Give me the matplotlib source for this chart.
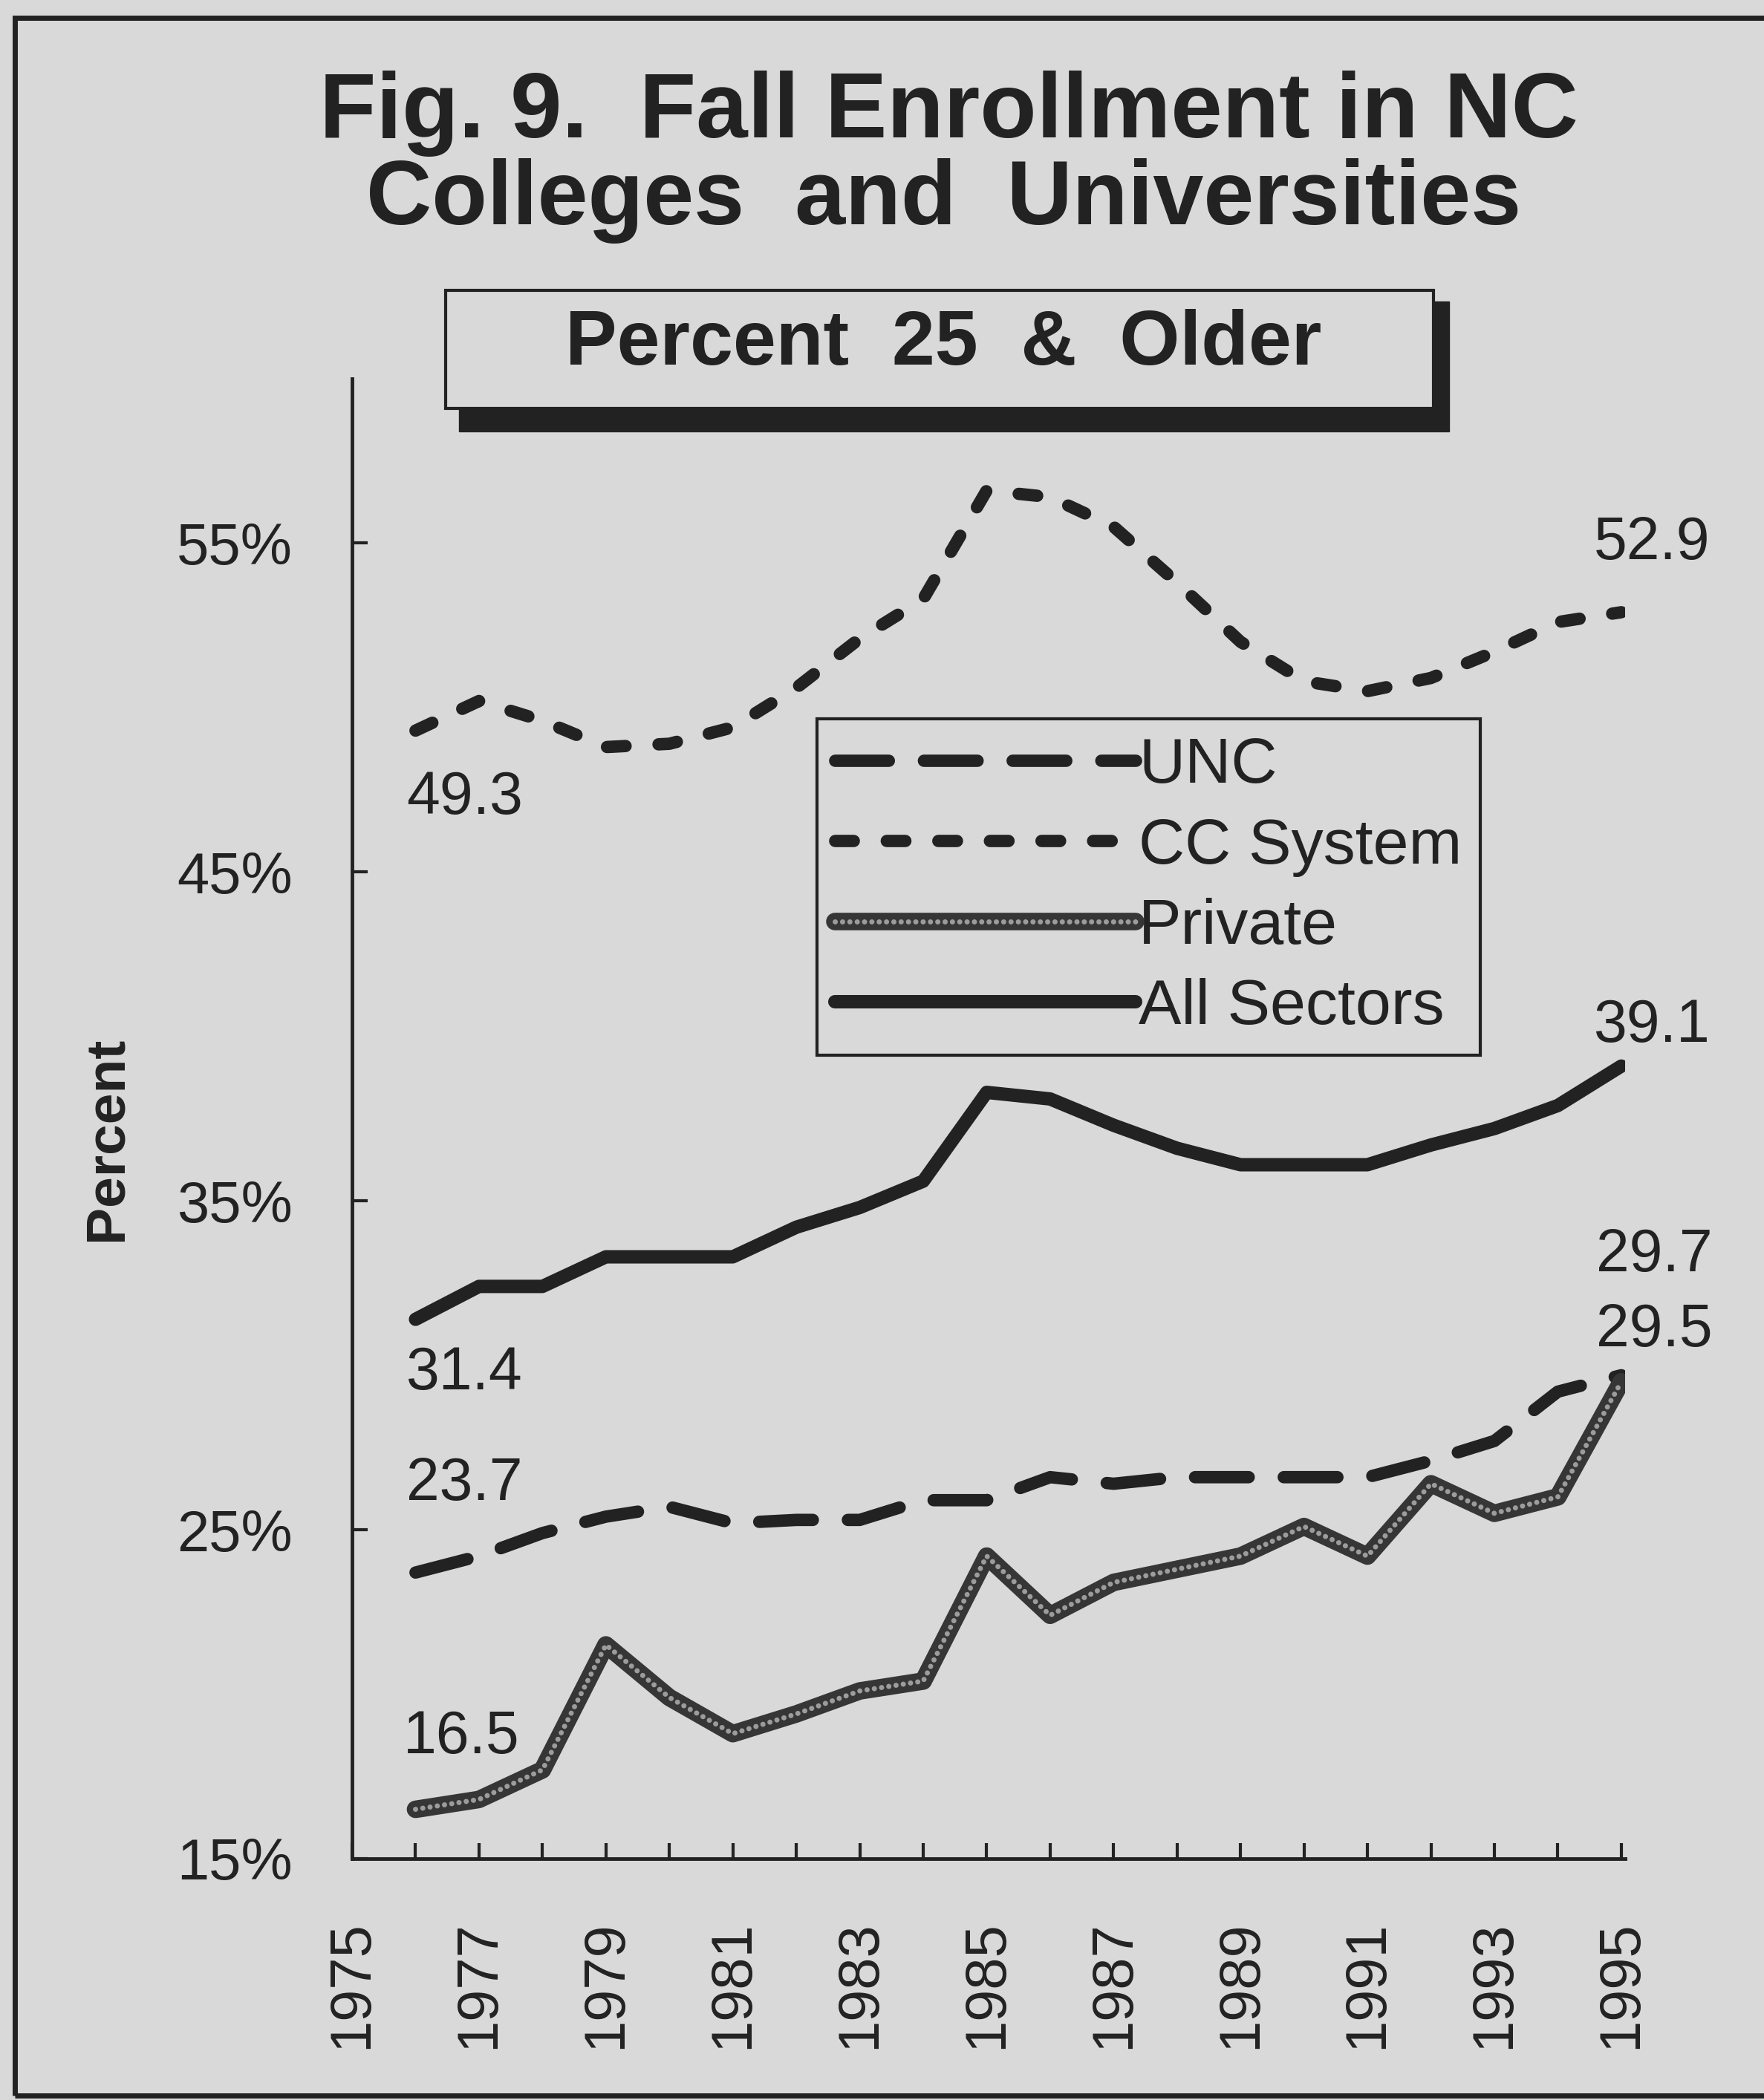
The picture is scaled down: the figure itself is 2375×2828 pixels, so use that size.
import numpy as np
import matplotlib
matplotlib.use("Agg")
import matplotlib.pyplot as plt
from matplotlib.patches import Rectangle
from matplotlib.legend_handler import HandlerTuple

plt.rcParams['font.family'] = ['Liberation Sans', 'DejaVu Sans']
plt.rcParams['lines.scale_dashes'] = False

# data (percent of fall enrollment aged 25 & older)
years = list(range(1976, 1996))
unc = [23.7, 24.2, 24.9, 25.4, 25.7, 25.2, 25.3, 25.3, 25.9, 25.9,
       26.6, 26.4, 26.6, 26.6, 26.6, 26.6, 27.1, 27.7, 29.2, 29.7]
cc_system = [49.3, 50.2, 49.6, 48.8, 48.9, 49.4, 50.6, 52.1, 53.3, 56.6,
             56.4, 55.5, 53.8, 52.0, 50.8, 50.5, 50.9, 51.7, 52.6, 52.9]
private = [16.5, 16.8, 17.7, 21.5, 19.9, 18.8, 19.4, 20.1, 20.4, 24.2,
           22.4, 23.4, 23.8, 24.2, 25.1, 24.2, 26.4, 25.5, 26.0, 29.5]
all_sectors = [31.4, 32.4, 32.4, 33.3, 33.3, 33.3, 34.2, 34.8, 35.6, 38.3,
               38.1, 37.3, 36.6, 36.1, 36.1, 36.1, 36.7, 37.2, 37.9, 39.1]
yticks = [15, 25, 35, 45, 55]
year_labels = list(range(1975, 1996, 2))

bg = '#d9d9d9'
ink = '#222222'

fig = plt.figure(figsize=(23.75, 28.28), dpi=100, facecolor=bg)

# outer frame of the scanned page
fig.patches.append(Rectangle((20 / 2375, 1 - 2822 / 2828), 1.2, (2822 - 24) / 2828,
                             transform=fig.transFigure, fill=False, lw=5,
                             edgecolor=ink))

fig.text(0.538, 1 - 153 / 2828, 'Fig. 9.  Fall Enrollment in NC', ha='center',
         va='center', fontsize=90, fontweight='bold', color=ink)
fig.text(0.535, 1 - 270 / 2828, 'Colleges  and  Universities', ha='center',
         va='center', fontsize=88, fontweight='bold', color=ink)

# subtitle box with drop shadow
fig.patches.append(Rectangle((618 / 2375, 1 - 581 / 2828), (1951 - 618) / 2375,
                             (581 - 406) / 2828, transform=fig.transFigure,
                             facecolor=ink, edgecolor=ink))
fig.patches.append(Rectangle((600 / 2375, 1 - 550 / 2828), (1930 - 600) / 2375,
                             (550 - 391) / 2828, transform=fig.transFigure,
                             facecolor=bg, edgecolor=ink, lw=3))
fig.text(1270 / 2375, 1 - 465 / 2828, 'Percent  25  &  Older', ha='center',
         va='center', fontsize=75, fontweight='bold', color=ink)

ax = fig.add_axes([474 / 2375, 1 - 2503 / 2828, (2188 - 474) / 2375,
                   (2503 - 510) / 2828])
ax.set_facecolor('none')

l_unc, = ax.plot(years, unc, color=ink, lw=12, dashes=(52, 34),
                 dash_capstyle='round', solid_joinstyle='round')
l_cc, = ax.plot(years, cc_system, color=ink, lw=12, dashes=(18, 32),
                dash_capstyle='round', solid_joinstyle='round')
l_pr, = ax.plot(years, private, color='#363636', lw=17,
                solid_joinstyle='round', solid_capstyle='round')
l_pr2, = ax.plot(years, private, color='#9c9c9c', lw=5, dashes=(0.1, 7),
                 dash_capstyle='round')
l_all, = ax.plot(years, all_sectors, color=ink, lw=13,
                 solid_joinstyle='round', solid_capstyle='round')

ax.set_xlim(1975, 1995.06)
ax.set_ylim(15, 60)
for s in ['top', 'right']:
    ax.spines[s].set_visible(False)
for s in ['left', 'bottom']:
    ax.spines[s].set_linewidth(3.5)
    ax.spines[s].set_color(ink)

ax.set_yticks(yticks)
ax.set_yticklabels([f'{v}%' for v in yticks])
ax.set_xticks(year_labels)
ax.set_xticklabels([str(y) for y in year_labels], rotation=90, va='top')
ax.set_xticks(years, minor=True)
ax.tick_params(axis='both', which='both', direction='in', length=15, width=3,
               color=ink, labelcolor=ink, labelsize=56)
ax.tick_params(axis='y', pad=58)
ax.tick_params(axis='x', which='major', pad=60)

fig.text(144 / 2375, 1 - 1533 / 2828, 'Percent', rotation=90, ha='center',
         va='center', fontsize=54, fontweight='bold', color=ink)

# start / end value labels
series = [cc_system, all_sectors, unc, private]
start_off = [(66, -91), (66, -73), (66, 119), (62, 97)]
end_off = [(41, 92), (41, 54), (44, 161), (44, 69)]
for vals, so, eo in zip(series, start_off, end_off):
    ax.annotate(f'{vals[0]}', (years[0], vals[0]), xytext=so,
                textcoords='offset pixels', ha='center', va='center',
                fontsize=58, color=ink, annotation_clip=False)
    ax.annotate(f'{vals[-1]}', (years[-1], vals[-1]), xytext=eo,
                textcoords='offset pixels', ha='center', va='center',
                fontsize=58, color=ink, annotation_clip=False)

leg = ax.legend([l_unc, l_cc, (l_pr, l_pr2), l_all],
                ['UNC', 'CC System', 'Private', 'All Sectors'],
                handler_map={tuple: HandlerTuple(ndivide=1, pad=0)},
                loc='upper left', bbox_to_anchor=(1100 / 2375, 1 - 968 / 2828),
                bbox_transform=fig.transFigure, fontsize=62, handlelength=4.7,
                handletextpad=0.05, labelspacing=0.33, borderpad=0.28,
                borderaxespad=0, fancybox=False, framealpha=1)
leg.get_frame().set_facecolor(bg)
leg.get_frame().set_edgecolor(ink)
leg.get_frame().set_linewidth(3)
for t in leg.get_texts():
    t.set_color(ink)

fig.savefig('out.png', dpi=100, facecolor=bg)
